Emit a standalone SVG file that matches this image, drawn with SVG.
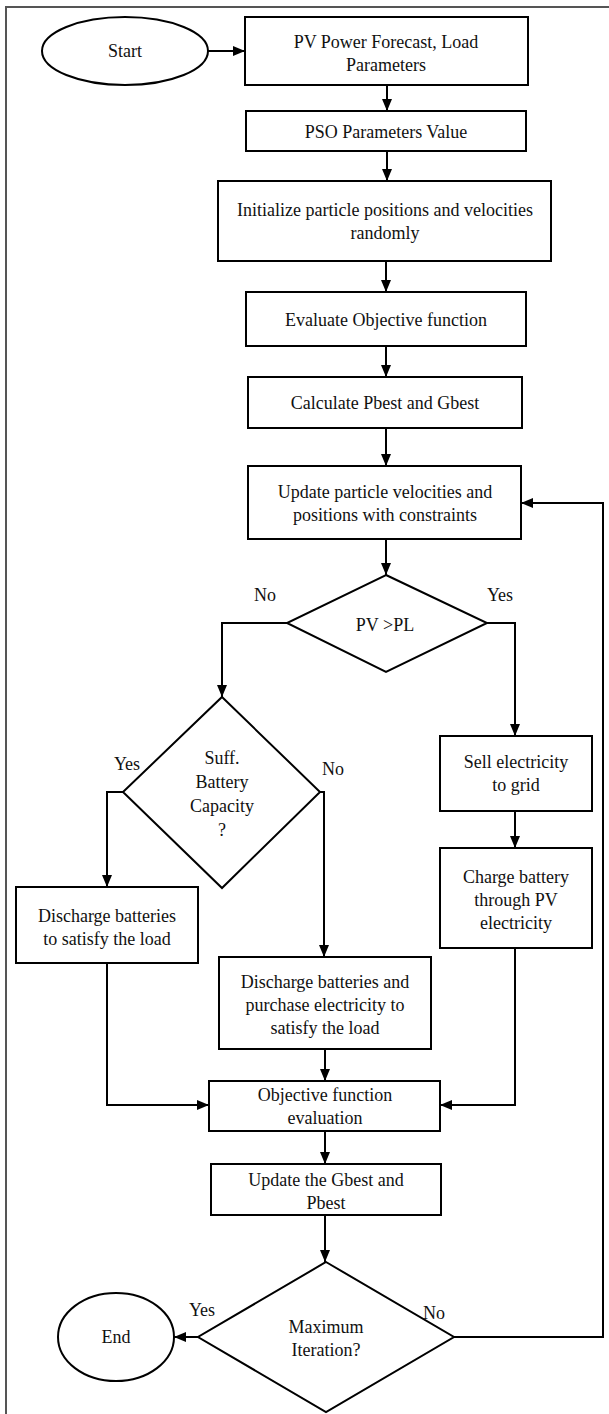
<svg xmlns="http://www.w3.org/2000/svg" width="609" height="1414" viewBox="0 0 609 1414">
<style>
.n{fill:#fff;stroke:#000;stroke-width:2}
.t{font-family:"Liberation Serif","Times New Roman",serif;font-size:18px;fill:#111;text-anchor:middle}
.c{fill:none;stroke:#000;stroke-width:2}
.f{fill:none;stroke:#555;stroke-width:2}
</style>
<defs>
<marker id="ah" markerWidth="12" markerHeight="10" refX="12" refY="5" orient="auto" markerUnits="userSpaceOnUse">
<path d="M0,0 L12,5 L0,10 Z" fill="#000"/>
</marker>
</defs>
<rect width="609" height="1414" fill="#fff"/>
<path class="f" d="M6,1414 V7 H609"/>
<g id="connectors">
<path class="c" d="M208,51 H245" marker-end="url(#ah)"/>
<path class="c" d="M387,85 V111" marker-end="url(#ah)"/>
<path class="c" d="M387,151 V181" marker-end="url(#ah)"/>
<path class="c" d="M386,261 V292" marker-end="url(#ah)"/>
<path class="c" d="M386,346 V377" marker-end="url(#ah)"/>
<path class="c" d="M386,428 V466" marker-end="url(#ah)"/>
<path class="c" d="M386,539 V575" marker-end="url(#ah)"/>
<path class="c" d="M287,623 H222 V697" marker-end="url(#ah)"/>
<path class="c" d="M487,623 H515 V736" marker-end="url(#ah)"/>
<path class="c" d="M123,792 H107 V887" marker-end="url(#ah)"/>
<path class="c" d="M320,792 H324 V957" marker-end="url(#ah)"/>
<path class="c" d="M515,811 V848" marker-end="url(#ah)"/>
<path class="c" d="M325,1049 V1081" marker-end="url(#ah)"/>
<path class="c" d="M107,963 V1105 H209" marker-end="url(#ah)"/>
<path class="c" d="M515,948 V1105 H440" marker-end="url(#ah)"/>
<path class="c" d="M325,1131 V1164" marker-end="url(#ah)"/>
<path class="c" d="M325,1215 V1262" marker-end="url(#ah)"/>
<path class="c" d="M198,1337 H174" marker-end="url(#ah)"/>
<path class="c" d="M454,1337 H603 V503 H521" marker-end="url(#ah)"/>
<text class="t" x="265" y="601">No</text>
<text class="t" x="500" y="601">Yes</text>
<text class="t" x="127" y="770">Yes</text>
<text class="t" x="333" y="775">No</text>
<text class="t" x="202" y="1316">Yes</text>
<text class="t" x="434" y="1319">No</text>
</g>
<g id="start">
<ellipse class="n" cx="125" cy="51" rx="83" ry="34"/>
<text class="t" x="125" y="57">Start</text>
</g>
<g id="pv-forecast">
<rect class="n" x="245" y="17" width="283" height="68"/>
<text class="t" x="386" y="48">PV Power Forecast, Load</text>
<text class="t" x="386" y="71">Parameters</text>
</g>
<g id="pso-params">
<rect class="n" x="246" y="111" width="280" height="40"/>
<text class="t" x="386" y="138">PSO Parameters Value</text>
</g>
<g id="initialize">
<rect class="n" x="218" y="181" width="333" height="80"/>
<text class="t" x="385" y="216">Initialize particle positions and velocities</text>
<text class="t" x="385" y="239">randomly</text>
</g>
<g id="evaluate">
<rect class="n" x="246" y="292" width="280" height="54"/>
<text class="t" x="386" y="326">Evaluate Objective function</text>
</g>
<g id="calculate">
<rect class="n" x="248" y="377" width="274" height="51"/>
<text class="t" x="385" y="409">Calculate Pbest and Gbest</text>
</g>
<g id="update-particles">
<rect class="n" x="248" y="466" width="273" height="73"/>
<text class="t" x="385" y="498">Update particle velocities and</text>
<text class="t" x="385" y="521">positions with constraints</text>
</g>
<g id="pv-gt-pl">
<polygon class="n" points="386,575 487,623 386,672 287,623"/>
<text class="t" x="385" y="631">PV &gt;PL</text>
</g>
<g id="suff-battery">
<polygon class="n" points="222,697 320,792 222,888 123,792"/>
<text class="t" x="222" y="764">Suff.</text>
<text class="t" x="222" y="788">Battery</text>
<text class="t" x="222" y="812">Capacity</text>
<text class="t" x="222" y="836">?</text>
</g>
<g id="sell">
<rect class="n" x="440" y="736" width="152" height="75"/>
<text class="t" x="516" y="768">Sell electricity</text>
<text class="t" x="516" y="791">to grid</text>
</g>
<g id="charge">
<rect class="n" x="440" y="848" width="152" height="100"/>
<text class="t" x="516" y="883">Charge battery</text>
<text class="t" x="516" y="906">through PV</text>
<text class="t" x="516" y="929">electricity</text>
</g>
<g id="discharge">
<rect class="n" x="16" y="887" width="182" height="76"/>
<text class="t" x="107" y="922">Discharge batteries</text>
<text class="t" x="107" y="945">to satisfy the load</text>
</g>
<g id="discharge-purchase">
<rect class="n" x="219" y="957" width="212" height="92"/>
<text class="t" x="325" y="988">Discharge batteries and</text>
<text class="t" x="325" y="1011">purchase electricity to</text>
<text class="t" x="325" y="1034">satisfy the load</text>
</g>
<g id="objective-eval">
<rect class="n" x="209" y="1081" width="231" height="50"/>
<text class="t" x="325" y="1101">Objective function</text>
<text class="t" x="325" y="1124">evaluation</text>
</g>
<g id="update-gbest">
<rect class="n" x="211" y="1164" width="230" height="51"/>
<text class="t" x="326" y="1186">Update the Gbest and</text>
<text class="t" x="326" y="1209">Pbest</text>
</g>
<g id="max-iteration">
<polygon class="n" points="326,1262 454,1337 326,1412 198,1337"/>
<text class="t" x="326" y="1333">Maximum</text>
<text class="t" x="326" y="1356">Iteration?</text>
</g>
<g id="end">
<ellipse class="n" cx="116" cy="1337" rx="58" ry="44"/>
<text class="t" x="116" y="1343">End</text>
</g>
</svg>
